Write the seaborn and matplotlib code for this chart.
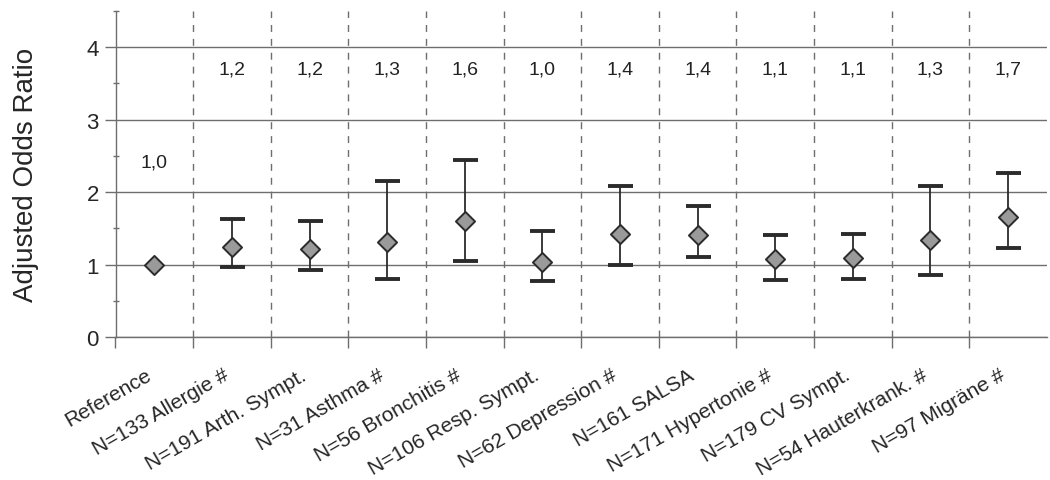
import numpy as np
import pandas as pd
import matplotlib
matplotlib.use("Agg")
import matplotlib.pyplot as plt
import seaborn as sns
from matplotlib.ticker import MultipleLocator

# ── Data ─────────────────────────────────────────────────────────────────────

groups = [
    "Reference", "N=133 Allergie #", "N=191 Arth. Sympt.", "N=31 Asthma #",
    "N=56 Bronchitis #", "N=106 Resp. Sympt.", "N=62 Depression #",
    "N=161 SALSA", "N=171 Hypertonie #", "N=179 CV Sympt.",
    "N=54 Hauterkrank. #", "N=97 Migräne #",
]
odds_ratio = [1.00, 1.24, 1.21, 1.31, 1.60, 1.04, 1.43, 1.41, 1.08, 1.09, 1.34, 1.66]
ci_low = [np.nan, 0.97, 0.92, 0.80, 1.05, 0.77, 0.99, 1.10, 0.79, 0.80, 0.86, 1.23]
ci_high = [np.nan, 1.63, 1.60, 2.15, 2.44, 1.47, 2.09, 1.81, 1.41, 1.43, 2.08, 2.26]
or_labels = ["1,0", "1,2", "1,2", "1,3", "1,6", "1,0", "1,4", "1,4", "1,1", "1,1", "1,3", "1,7"]

df = pd.DataFrame({"group": groups, "OR": odds_ratio, "lo": ci_low, "hi": ci_high})
df["x"] = np.arange(len(df))

# ── Style ─────────────────────────────────────────────────────────────────────

sns.set_theme(style="white")
plt.rcParams["font.family"] = ["Liberation Sans", "DejaVu Sans"]

fig = plt.figure(figsize=(10.5, 4.81), dpi=100)
ax = fig.add_axes([0.110, 0.297, 0.887, 0.678])

line_col = "#6e6e6e"
dark = "#2b2b2b"

# confidence intervals
has_ci = df["lo"].notna()
ax.errorbar(
    df.loc[has_ci, "x"], df.loc[has_ci, "OR"],
    yerr=[df.loc[has_ci, "OR"] - df.loc[has_ci, "lo"],
          df.loc[has_ci, "hi"] - df.loc[has_ci, "OR"]],
    fmt="none", ecolor=dark, elinewidth=1.3, capsize=9, capthick=2.8,
    zorder=3,
)

# point estimates
sns.scatterplot(
    data=df, x="x", y="OR", marker="D", s=95,
    color="#9a9a9a", edgecolor=dark, linewidth=1.4, zorder=4, ax=ax,
)

# value labels
for xi, lab in zip(df["x"], or_labels):
    ax.text(xi, 2.42 if xi == 0 else 3.7, lab, ha="center", va="center",
            fontsize=14, color="#222222")

# axes limits and ticks
ax.set_xlim(-0.5, len(df) - 0.5)
ax.set_ylim(0, 4.5)
ax.set_xticks(df["x"])
# anchored at the bottom-right so the rotated labels sit a bit left of centre
ax.set_xticklabels(df["group"], rotation=30, ha="right", va="bottom",
                   rotation_mode="anchor", fontsize=15)
ax.set_xticks(np.arange(-0.5, len(df) - 0.5, 1.0), minor=True)
ax.yaxis.set_major_locator(MultipleLocator(1))
ax.yaxis.set_minor_locator(MultipleLocator(0.5))
ax.tick_params(axis="x", which="major", length=0, pad=32)
ax.tick_params(axis="x", which="minor", length=8, width=1, color=line_col,
               direction="out", bottom=True)
ax.tick_params(axis="y", which="major", length=8, width=1, color=line_col,
               direction="out", left=True, labelsize=16, pad=4)
ax.tick_params(axis="y", which="minor", length=5, width=1, color=line_col,
               direction="inout", left=True)

# grid: solid horizontal, dashed vertical separators
ax.grid(axis="y", which="major", color=line_col, linewidth=1.0)
ax.grid(axis="x", which="minor", color=line_col, linewidth=1.0,
        linestyle=(0, (5, 5)))
ax.grid(axis="x", which="major", visible=False)

for side in ["top", "right"]:
    ax.spines[side].set_visible(False)
for side in ["left", "bottom"]:
    ax.spines[side].set_color(line_col)
    ax.spines[side].set_linewidth(1.0)

ax.set_xlabel("")
ax.set_ylabel("Adjusted Odds Ratio", fontsize=20, labelpad=34)

fig.savefig("out.png", dpi=100)
plt.close(fig)
